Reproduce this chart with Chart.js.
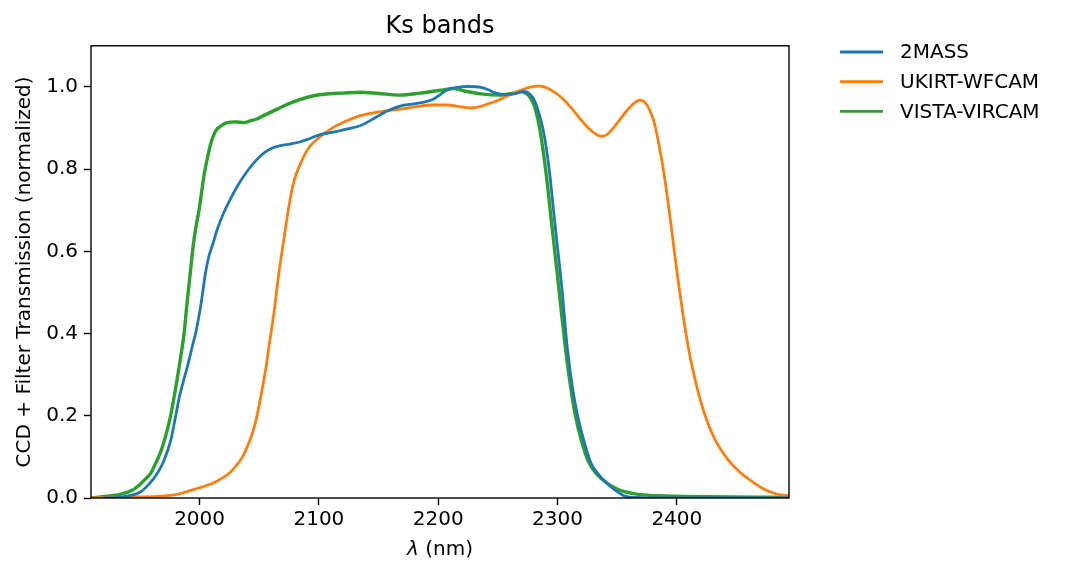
<!DOCTYPE html>
<html>
<head>
<meta charset="utf-8">
<script src="https://cdn.jsdelivr.net/npm/chart.js@4.4.1/dist/chart.umd.min.js"></script>
<style>
  html, body { margin: 0; padding: 0; background: #ffffff; }
  #wrap { width: 1073px; height: 579px; position: relative; }
</style>
</head>
<body>
<div id="wrap"><canvas id="c" width="1073" height="579"></canvas></div>
<script>
// ---------- data ----------
const seriesNames = ["2MASS", "UKIRT-WFCAM", "VISTA-VIRCAM"];
const seriesColors = ["#1f77b4", "#ff7f0e", "#2ca02c"];

const twomassLambda = [1920,1930,1940,1950,1958,1965,1970,1976,1980,1983,1987,1990,1994,1997,2001,2005,2008,2011,2015,2020,2026,2032,2038,2046,2053,2060,2068,2076,2084,2092,2101,2110,2124,2135,2143,2152,2160,2169,2178,2186,2192,2197,2202,2208,2216,2225,2236,2242,2247,2255,2264,2272,2277,2281,2284,2288,2293,2297,2300,2304,2308,2313,2317,2322,2328,2335,2342,2348,2354,2359,2370,2400,2494];
const twomassValues = [0.0,0.001,0.005,0.014,0.035,0.062,0.09,0.142,0.20,0.245,0.29,0.322,0.37,0.405,0.468,0.548,0.59,0.617,0.655,0.692,0.728,0.76,0.787,0.817,0.837,0.85,0.857,0.861,0.866,0.874,0.884,0.889,0.898,0.906,0.918,0.933,0.945,0.954,0.958,0.962,0.966,0.972,0.982,0.993,0.999,1.001,0.999,0.993,0.986,0.982,0.983,0.989,0.982,0.965,0.94,0.895,0.80,0.69,0.61,0.50,0.37,0.26,0.198,0.14,0.085,0.055,0.034,0.02,0.008,0.003,0.001,0.0,0.0];

const ukirtLambda = [1909,1940,1965,1980,1992,2000,2012,2020,2026,2031,2036,2040,2044,2048,2052,2055.5,2058.2,2062.3,2066.5,2070.7,2074.9,2078,2081,2085,2089,2093,2099,2110,2122,2135,2150,2168,2182,2194,2208,2218,2227,2235,2242,2250,2258,2265,2272,2278,2284,2290,2297,2303,2311,2319,2327,2334,2338,2343,2350,2358,2364,2369,2373,2377,2381,2385,2389.5,2394,2398,2402,2406,2410,2414.7,2420,2426,2432,2438,2444,2452,2462,2472,2482,2494];
const ukirtValues = [0.0,0.002,0.004,0.008,0.018,0.025,0.037,0.05,0.063,0.08,0.1,0.125,0.155,0.198,0.258,0.315,0.37,0.45,0.548,0.63,0.71,0.757,0.788,0.816,0.84,0.857,0.874,0.898,0.916,0.93,0.939,0.946,0.952,0.956,0.956,0.952,0.949,0.952,0.959,0.967,0.978,0.987,0.995,1.0,1.002,0.999,0.988,0.975,0.951,0.922,0.897,0.882,0.88,0.888,0.912,0.942,0.96,0.968,0.963,0.945,0.914,0.86,0.784,0.69,0.597,0.51,0.43,0.36,0.296,0.235,0.182,0.142,0.113,0.089,0.065,0.042,0.023,0.011,0.005];

const vistaLambda = [1909,1915,1925,1935,1943,1950,1955,1959,1963,1967,1971,1975,1978,1981,1984,1987,1989,1991,1993,1995,1997,1999.5,2002,2004,2006.5,2009,2011,2014,2018,2023,2030,2037,2043,2048,2055,2065,2074,2082,2092,2104,2120,2135,2150,2168,2185,2202,2213,2222,2236,2252,2262,2269,2273,2277,2281,2285,2290,2295,2301.5,2306,2311,2315,2320,2326,2333,2342,2350,2358,2365,2375,2390,2420,2494];
const vistaValues = [0.0,0.002,0.005,0.01,0.018,0.033,0.047,0.06,0.083,0.109,0.145,0.19,0.235,0.285,0.34,0.40,0.46,0.515,0.57,0.622,0.66,0.70,0.75,0.79,0.826,0.858,0.877,0.895,0.905,0.913,0.915,0.913,0.918,0.922,0.932,0.946,0.958,0.967,0.976,0.982,0.985,0.987,0.984,0.98,0.985,0.992,0.996,0.99,0.983,0.98,0.984,0.989,0.985,0.975,0.95,0.90,0.80,0.67,0.50,0.38,0.27,0.20,0.14,0.088,0.058,0.035,0.022,0.014,0.01,0.007,0.005,0.003,0.002];

const xTickValues = [2000, 2100, 2200, 2300, 2400];
const yTickValues = [0.0, 0.2, 0.4, 0.6, 0.8, 1.0];

// ---------- chart ----------
const FONT = "'DejaVu Sans', 'Liberation Sans', sans-serif";
const toPoints = (xs, ys) => xs.map((x, i) => ({ x: x, y: ys[i] }));

const framePlugin = {
  id: 'framePlugin',
  afterDraw(chart) {
    const ctx = chart.ctx, a = chart.chartArea;
    ctx.save();
    // spines
    ctx.strokeStyle = '#000000';
    ctx.lineWidth = 1.4;
    ctx.strokeRect(a.left, a.top, a.right - a.left, a.bottom - a.top);
    // x axis title with italic lambda
    ctx.fillStyle = '#000000';
    ctx.textBaseline = 'middle';
    ctx.textAlign = 'left';
    const fItal = "italic 20px " + FONT, fReg = "20px " + FONT;
    ctx.font = fItal; const w1 = ctx.measureText('λ').width;
    ctx.font = fReg; const w2 = ctx.measureText(' (nm)').width;
    const cx = (a.left + a.right) / 2, ty = 550;
    let x0 = cx - (w1 + w2) / 2;
    ctx.font = fItal; ctx.fillText('λ', x0, ty);
    ctx.font = fReg; ctx.fillText(' (nm)', x0 + w1, ty);
    // legend
    const lx0 = a.right + 51, lx1 = a.right + 94, tx = a.right + 111;
    chart.data.datasets.forEach((ds, i) => {
      const y = 52 + i * 29.7;
      ctx.strokeStyle = ds.borderColor;
      ctx.lineWidth = 2.8;
      ctx.beginPath(); ctx.moveTo(lx0, y); ctx.lineTo(lx1, y); ctx.stroke();
      ctx.fillStyle = '#000000';
      ctx.font = fReg;
      ctx.fillText(ds.label, tx, y + 1);
    });
    ctx.restore();
  }
};

new Chart(document.getElementById('c'), {
  type: 'line',
  data: {
    datasets: [
      { label: seriesNames[0], data: toPoints(twomassLambda, twomassValues), borderColor: seriesColors[0], borderWidth: 2.8 },
      { label: seriesNames[1], data: toPoints(ukirtLambda, ukirtValues), borderColor: seriesColors[1], borderWidth: 2.8 },
      { label: seriesNames[2], data: toPoints(vistaLambda, vistaValues), borderColor: seriesColors[2], borderWidth: 3.4 }
    ]
  },
  options: {
    responsive: false,
    animation: false,
    devicePixelRatio: 1,
    layout: { padding: { left: 0, top: 0, right: 284, bottom: 0 } },
    elements: {
      point: { radius: 0, hoverRadius: 0 },
      line: { cubicInterpolationMode: 'monotone', fill: false, borderCapStyle: 'round', borderJoinStyle: 'round' }
    },
    plugins: {
      legend: { display: false },
      tooltip: { enabled: false },
      title: {
        display: true,
        text: 'Ks bands',
        fullSize: false,
        color: '#000000',
        font: { family: FONT, size: 24, weight: 'normal' },
        padding: { top: 12, bottom: 5 }
      }
    },
    scales: {
      x: {
        type: 'linear',
        min: 1909,
        max: 2494,
        afterBuildTicks: (s) => { s.ticks = xTickValues.map(v => ({ value: v })); },
        afterFit: (s) => { s.height = 81; },
        border: { display: false },
        grid: { drawOnChartArea: false, drawTicks: true, tickLength: 7, tickColor: '#000000', tickWidth: 1.4 },
        ticks: { color: '#000000', font: { family: FONT, size: 20 }, padding: 3, maxRotation: 0, autoSkip: false,
                 callback: (v) => String(v) },
        title: { display: false }
      },
      y: {
        type: 'linear',
        min: 0,
        max: 1.1,
        afterBuildTicks: (s) => { s.ticks = yTickValues.map(v => ({ value: v })); },
        afterFit: (s) => { s.width = 91; },
        border: { display: false },
        grid: { drawOnChartArea: false, drawTicks: true, tickLength: 7, tickColor: '#000000', tickWidth: 1.4 },
        ticks: { color: '#000000', font: { family: FONT, size: 20 }, padding: 6, autoSkip: false,
                 callback: (v) => Number(v).toFixed(1) },
        title: {
          display: true,
          text: 'CCD + Filter Transmission (normalized)',
          color: '#000000',
          font: { family: FONT, size: 20 },
          padding: { top: 13, bottom: 0 }
        }
      }
    }
  },
  plugins: [framePlugin]
});
</script>
</body>
</html>
